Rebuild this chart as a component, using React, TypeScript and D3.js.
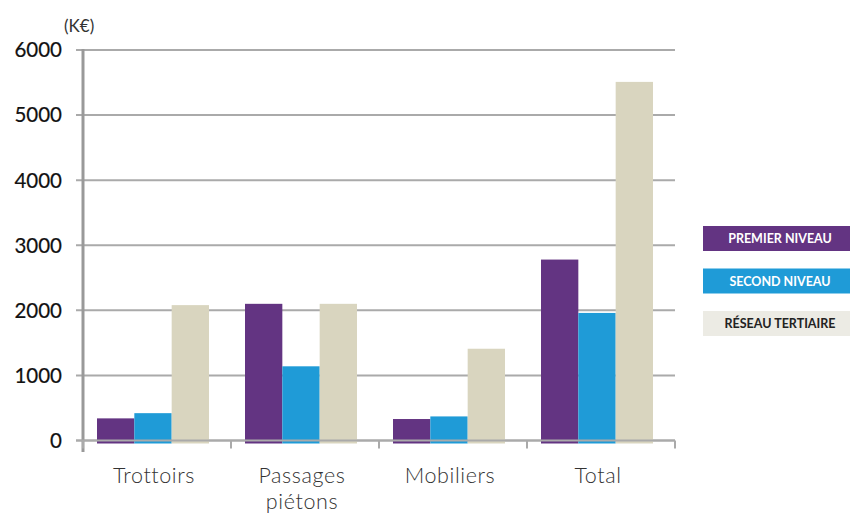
import React from "react";
import * as d3 from "d3";

const categories = ["Trottoirs", "Passages piétons", "Mobiliers", "Total"];
const series = ["PREMIER NIVEAU", "SECOND NIVEAU", "RÉSEAU TERTIAIRE"];
const premierNiveau = [340, 2100, 330, 2780];
const secondNiveau = [420, 1140, 370, 1960];
const reseauTertiaire = [2080, 2100, 1410, 5510];
const yTicks = [0, 1000, 2000, 3000, 4000, 5000, 6000];

const colors = ["#633482", "#1f9bd7", "#d9d5bf"];
const legendFill = ["#633482", "#1f9bd7", "#ecebe4"];
const legendText = ["#ffffff", "#ffffff", "#222222"];

const width = 850,
  height = 515;

export default function App() {
  const values = [premierNiveau, secondNiveau, reseauTertiaire];

  const x0 = d3.scaleBand().domain(categories).range([83, 675]);
  const x1 = d3
    .scaleBand()
    .domain(series)
    .range([14, x0.bandwidth() - 22]);
  const y = d3.scaleLinear().domain([0, 6000]).range([440.5, 50]);

  const font = "Lato, 'Open Sans', sans-serif";

  return (
    <svg
      width={width}
      height={height}
      style={{ position: "absolute", left: 0, top: 0, background: "#fff" }}
    >
      {/* grid */}
      {yTicks.map((t) => (
        <g key={t}>
          <line
            x1={76}
            x2={675}
            y1={y(t)}
            y2={y(t)}
            stroke="#aaaaaa"
            strokeWidth={2}
          />
          <text
            x={62}
            y={y(t)}
            dy="0.36em"
            textAnchor="end"
            fontFamily={font}
            fontSize={20.5}
            fill="#111"
            stroke="#111"
            strokeWidth={0.2}
          >
            {t}
          </text>
        </g>
      ))}
      <text x={64} y={32} fontFamily={font} fontSize={17} fill="#333">
        (K€)
      </text>

      {/* bars */}
      {categories.map((c, i) => (
        <g key={c} transform={`translate(${x0(c)},0)`}>
          {series.map((s, j) => (
            <rect
              key={s}
              x={x1(s)}
              y={y(values[j][i])}
              width={x1.bandwidth()}
              height={y(0) - y(values[j][i]) + 3}
              fill={colors[j]}
            />
          ))}
        </g>
      ))}

      {/* axes */}
      <line x1={83} x2={83} y1={49} y2={452} stroke="#999" strokeWidth={3} />
      <line x1={76} x2={675} y1={y(0)} y2={y(0)} stroke="#aaa" strokeWidth={2} />
      {[...categories.map((c) => x0(c) as number), 675].map((t, i) => (
        <line
          key={i}
          x1={t}
          x2={t}
          y1={y(0)}
          y2={y(0) + 8}
          stroke="#aaa"
          strokeWidth={2}
        />
      ))}

      {/* category labels, one text per line */}
      {categories.map((c) => {
        const words = c === "Passages piétons" ? ["Passages", "piétons"] : [c];
        const cx = (x0(c) as number) + x0.bandwidth() / 2 - 3;
        return words.map((w, k) => (
          <text
            key={c + w}
            x={cx}
            y={483 + k * 26}
            textAnchor="middle"
            fontFamily={font}
            fontWeight={300}
            fontSize={21.5}
            letterSpacing={0.6}
            fill="#333"
          >
            {w}
          </text>
        ));
      })}

      {/* legend */}
      {series.map((s, j) => (
        <g key={s} transform={`translate(703,${226 + j * 42.5})`}>
          <rect width={147} height={25} fill={legendFill[j]} />
          <text
            x={77}
            y={13}
            dy="0.35em"
            textAnchor="middle"
            fontFamily={font}
            fontWeight={700}
            fontSize={12.5}
            fill={legendText[j]}
          >
            {s}
          </text>
        </g>
      ))}
    </svg>
  );
}
